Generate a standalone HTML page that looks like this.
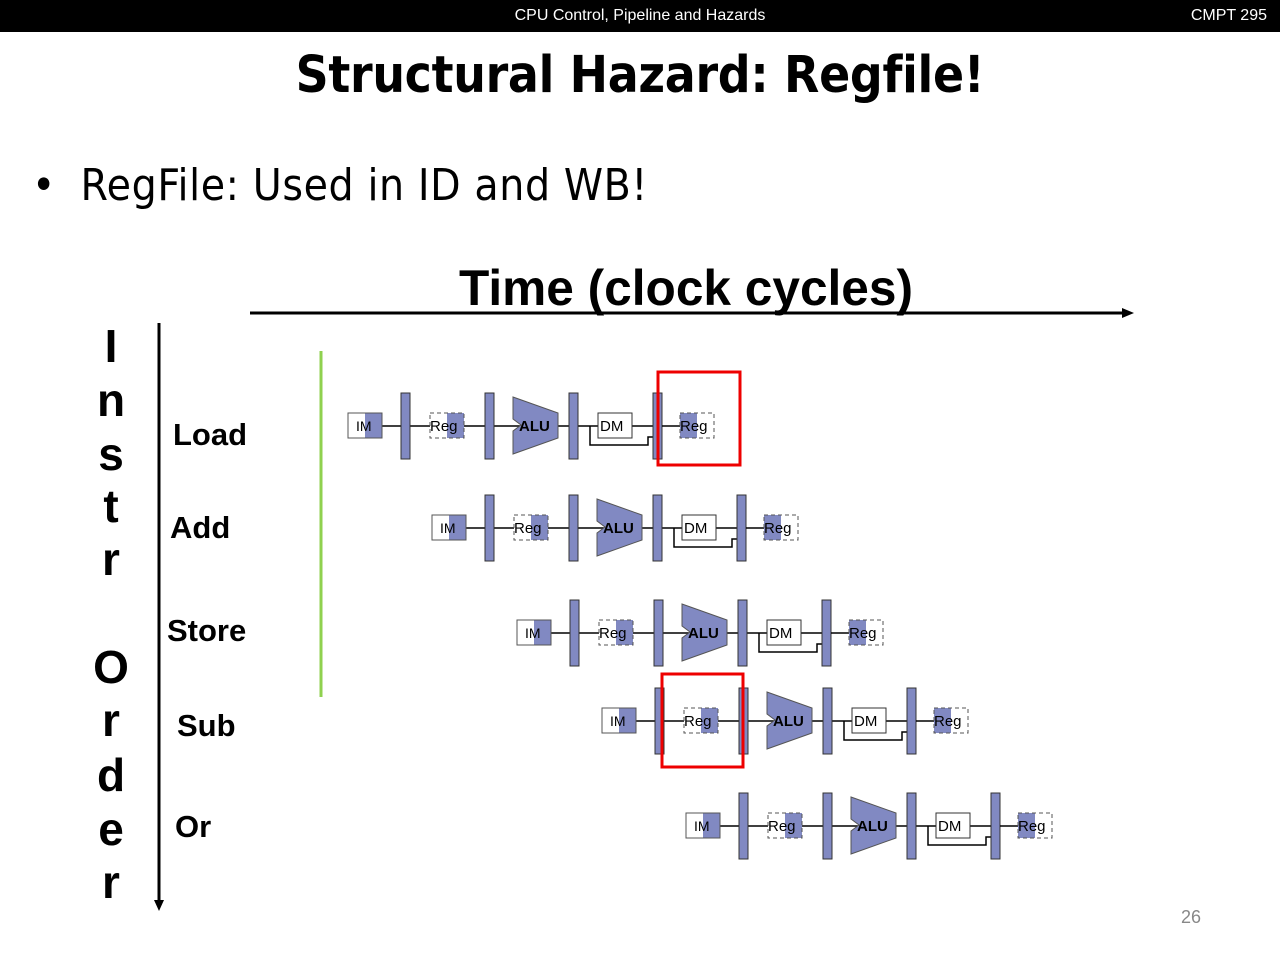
<!DOCTYPE html>
<html><head><meta charset="utf-8"><style>
html,body{margin:0;padding:0;background:#fff;}
body{width:1280px;height:960px;position:relative;overflow:hidden;font-family:"Liberation Sans",sans-serif;}
.top{position:absolute;left:0;top:0;width:1280px;height:32px;background:#000;color:#fff;font-size:16px;}
</style></head><body>
<div class="top"><span style="position:absolute;left:0;width:1280px;text-align:center;top:7px">CPU Control, Pipeline and Hazards</span><span style="position:absolute;right:13px;top:7px">CMPT 295</span></div>
<div style="position:absolute;left:0;width:1280px;top:46px;text-align:center;font-family:'DejaVu Sans Condensed','DejaVu Sans',sans-serif;font-weight:bold;font-size:51px;letter-spacing:-0.3px">Structural Hazard: Regfile!</div>
<div style="position:absolute;left:32px;top:160px;font-family:'DejaVu Sans Condensed','DejaVu Sans',sans-serif;font-size:44px;">•&nbsp;&nbsp;<span style="letter-spacing:0.6px">RegFile: Used in ID and WB!</span></div>
<svg width="1280" height="960" style="position:absolute;left:0;top:0" font-family="Liberation Sans, sans-serif">
<defs>
<g id="row">
 <line x1="382" y1="426" x2="653" y2="426" stroke="#000" stroke-width="1.5"/>
 <rect x="348" y="413" width="34" height="25" fill="#fff" stroke="#555"/>
 <rect x="365" y="413" width="17" height="25" fill="#8189c2"/>
 <rect x="348" y="413" width="34" height="25" fill="none" stroke="#555"/>
 <text x="356" y="431" font-size="14">IM</text>
 <rect x="401" y="393" width="9" height="66" fill="#8189c2" stroke="#333"/>
 <rect x="430" y="413" width="34" height="25" fill="#fff"/>
 <rect x="447" y="413" width="17" height="25" fill="#8189c2"/>
 <rect x="430" y="413" width="34" height="25" fill="none" stroke="#555" stroke-dasharray="4,3"/>
 <text x="430" y="431" font-size="15">Reg</text>
 <rect x="485" y="393" width="9" height="66" fill="#8189c2" stroke="#333"/>
 <polygon points="513,397 558,413 558,438 513,454 513,431 521,425 513,419" fill="#8189c2" stroke="#555"/>
 <text x="519" y="431" font-size="15" font-weight="bold">ALU</text>
 <rect x="569" y="393" width="9" height="66" fill="#8189c2" stroke="#333"/>
 <rect x="598" y="413" width="34" height="25" fill="#fff" stroke="#333"/>
 <text x="600" y="431" font-size="15">DM</text>
 <polyline points="590,426 590,445 648,445 648,437 653,437" fill="none" stroke="#000" stroke-width="1.5"/>
 <rect x="653" y="393" width="9" height="66" fill="#8189c2" stroke="#333"/>
 <line x1="662" y1="426" x2="680" y2="426" stroke="#000" stroke-width="1.5"/>
 <rect x="680" y="413" width="34" height="25" fill="#fff"/>
 <rect x="680" y="413" width="17" height="25" fill="#8189c2"/>
 <rect x="680" y="413" width="34" height="25" fill="none" stroke="#555" stroke-dasharray="4,3"/>
 <text x="680" y="431" font-size="15">Reg</text>
</g>
</defs>
<text x="686" y="305" text-anchor="middle" font-size="50" font-weight="bold" textLength="454" lengthAdjust="spacingAndGlyphs">Time (clock cycles)</text>
<line x1="250" y1="313" x2="1126" y2="313" stroke="#000" stroke-width="3"/>
<polygon points="1134,313 1122,308 1122,318" fill="#000"/>
<line x1="159" y1="323" x2="159" y2="902" stroke="#000" stroke-width="3"/>
<polygon points="159,911 154,900 164,900" fill="#000"/>
<line x1="321" y1="351" x2="321" y2="697" stroke="#8fd14f" stroke-width="3"/>
<g font-size="46" font-weight="bold" text-anchor="middle">
<text x="111" y="362">I</text><text x="111" y="416">n</text><text x="111" y="470">s</text><text x="111" y="522">t</text><text x="111" y="575">r</text>
<text x="111" y="683">O</text><text x="111" y="736">r</text><text x="111" y="791">d</text><text x="111" y="845">e</text><text x="111" y="898">r</text>
</g>
<g font-size="31" font-weight="bold">
<text x="173" y="445">Load</text><text x="170" y="538">Add</text><text x="167" y="641">Store</text><text x="177" y="736">Sub</text><text x="175" y="837">Or</text>
</g>
<use href="#row"/>
<use href="#row" transform="translate(84,102)"/>
<use href="#row" transform="translate(169,207)"/>
<use href="#row" transform="translate(254,295)"/>
<use href="#row" transform="translate(338,400)"/>
<rect x="658" y="372" width="82" height="93" fill="none" stroke="#e00" stroke-width="3"/>
<rect x="662" y="674" width="81" height="93" fill="none" stroke="#e00" stroke-width="3"/>
<text x="1181" y="923" font-size="18" fill="#888">26</text>
</svg>
</body></html>
